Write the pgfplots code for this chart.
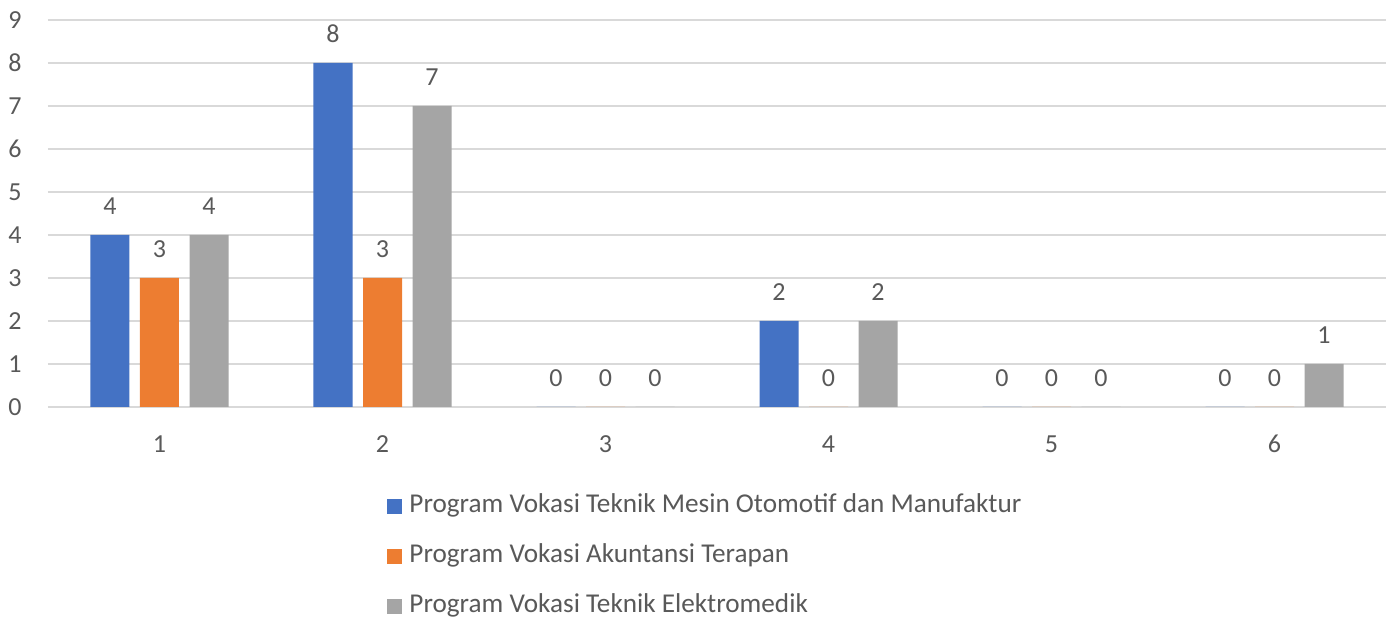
\documentclass[border=0pt]{standalone}
\usepackage{pgfplots}
\pgfplotsset{compat=1.18}
\usepackage{fontspec}
\setmainfont{Carlito}
\definecolor{cblue}{HTML}{4472C4}
\definecolor{corange}{HTML}{ED7D31}
\definecolor{cgray}{HTML}{A5A5A5}
\definecolor{cgrid}{HTML}{D9D9D9}
\definecolor{ctext}{HTML}{595959}
\begin{document}
\begin{tikzpicture}
\path[use as bounding box] (-24pt,-106.5pt) rectangle (672pt,203.5pt);
\begin{axis}[
  at={(0,0)}, anchor=south west,
  scale only axis,
  width=669pt, height=193.5pt,
  xmin=0.5, xmax=6.5, ymin=0, ymax=9,
  xtick={1,2,3,4,5,6}, ytick={0,1,...,9},
  ybar=5.25pt, bar width=19.5pt,
  axis line style={draw=none},
  major tick length=0pt,
  ymajorgrids, grid style={cgrid, line width=0.9pt},
  /pgf/number format/assume math mode=true,
  tick label style={font=\fontsize{13}{15}\selectfont, text=ctext, inner sep=0pt},
  yticklabel style={anchor=east, xshift=-13pt},
  xticklabel style={anchor=north, yshift=-14pt},
  nodes near coords,
  every node near coord/.append style={font=\fontsize{13}{15}\selectfont, text=ctext, anchor=south, inner sep=0pt, yshift=10pt},
  legend cell align=left,
  legend style={at={(0.2534,-0.224)}, anchor=north west, draw=none, inner sep=0pt,
    font=\fontsize{13.6}{15}\selectfont, text=ctext, row sep=13pt,
    nodes={inner sep=0pt, text height=9pt, text depth=3pt}},
  legend image code/.code={\fill[#1,draw=none] (0pt,-3.75pt) rectangle (7.5pt,3.75pt); \path (11pt,0);},
]
\addplot[fill=cblue, draw=none] coordinates {(1,4) (2,8) (3,0) (4,2) (5,0) (6,0)};
\addplot[fill=corange, draw=none] coordinates {(1,3) (2,3) (3,0) (4,0) (5,0) (6,0)};
\addplot[fill=cgray, draw=none] coordinates {(1,4) (2,7) (3,0) (4,2) (5,0) (6,1)};
\legend{Program Vokasi Teknik Mesin Otomotif dan Manufaktur, Program Vokasi Akuntansi Terapan, Program Vokasi Teknik Elektromedik}
\end{axis}
\end{tikzpicture}
\end{document}
